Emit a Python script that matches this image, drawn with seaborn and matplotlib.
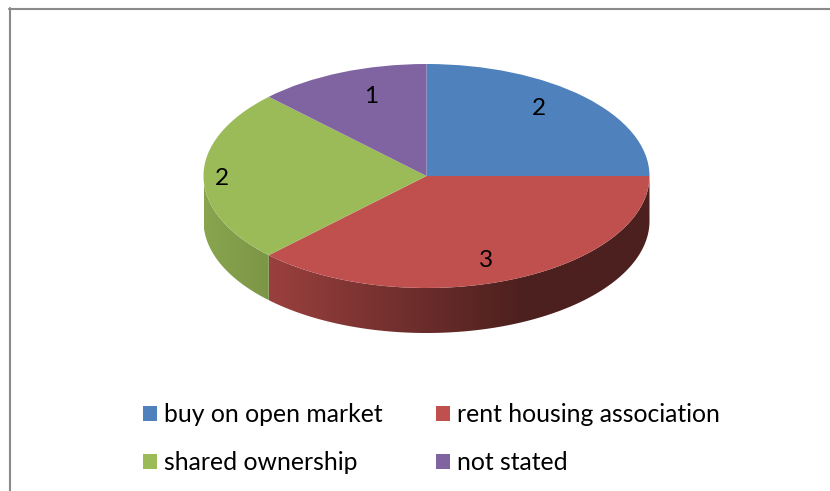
import numpy as np
import matplotlib
matplotlib.use("Agg")
import matplotlib.pyplot as plt
from matplotlib.colors import to_rgb
from matplotlib.lines import Line2D
from matplotlib.patches import Polygon
import seaborn as sns

categories = ["buy on open market", "rent housing association", "shared ownership", "not stated"]
values = [2, 3, 2, 1]
colors = ["#4f81bd", "#c0504d", "#9bbb59", "#8064a2"]

W, H = 830, 491
CX, CY, RX, RY, DEPTH = 426.5, 176, 223, 112, 45

sns.set_theme(style="white", palette=colors)
plt.rcParams["font.family"] = ["Lato", "DejaVu Sans"]

fig = plt.figure(figsize=(W / 100, H / 100), dpi=100)
ax = fig.add_axes([0, 0, 1, 1])

def px(x):
    return (x - CX) / RX

def py(y):
    return (CY - y) / RY

wedges, _ = ax.pie(values, startangle=90, counterclock=False, colors=sns.color_palette(n_colors=4),
                   radius=1, wedgeprops={"linewidth": 0, "zorder": 3})

# Side wall of the disc: a horizontal gradient clipped to each slice's rim
depth = DEPTH / RY
start = 90.0
total = sum(values)
shades = {colors[1]: (0.80, 0.40, 269, 520), colors[2]: (0.88, 0.80, 204, 269)}
for val, col in zip(values, colors):
    sweep = val / total * 360
    a0, a1 = start - sweep, start
    start = a0
    lo, hi = max(a0, -180), min(a1, 0)
    if lo >= hi:
        continue
    t = np.radians(np.linspace(lo, hi, 200))
    xs, ys = np.cos(t), np.sin(t)
    outline = np.r_[np.c_[xs, ys], np.c_[xs[::-1], ys[::-1] - depth]]
    s0, s1, p0, p1 = shades[col]
    grid = np.linspace(xs.min(), xs.max(), 400)
    u = np.clip(((grid * RX + CX) - p0) / (p1 - p0), 0, 1)
    img = (s0 + (s1 - s0) * u)[None, :, None] * np.array(to_rgb(col))[None, None, :]
    im = ax.imshow(img, extent=(xs.min(), xs.max(), ys.min() - depth, ys.max()),
                   aspect="auto", zorder=2, interpolation="bilinear")
    clip = Polygon(outline, closed=True, transform=ax.transData, facecolor="none", edgecolor="none")
    ax.add_patch(clip)
    im.set_clip_path(clip)

ax.set_aspect("auto")
ax.set_xlim(px(0), px(W))
ax.set_ylim(py(H), py(0))
ax.axis("off")

# Data labels
label_px = [(539, 108.5), (486, 260.5), (222, 178.5), (371, 96.5)]
for (x, y), v in zip(label_px, values):
    ax.text(px(x), py(y), str(v), ha="center", va="center", fontsize=17.5, color="black", zorder=5)

# Legend, filled column by column so that it reads row-wise
order = [0, 2, 1, 3]
ax.legend([wedges[i] for i in order], [categories[i] for i in order], ncols=2, frameon=False,
          loc="upper left", bbox_to_anchor=(143 / W, 1 - 403 / H), bbox_transform=fig.transFigure,
          fontsize=17.8, labelcolor="black", handlelength=0.566, handleheight=0.566, handletextpad=0.285,
          labelspacing=1.02, columnspacing=2.14, borderpad=0, borderaxespad=0)

# Chart area border
for xs, ys in [((9.5, 9.5), (8, H)), ((8.5, W), (8.8, 8.8))]:
    fig.add_artist(Line2D([x / W for x in xs], [1 - y / H for y in ys], color="#8a8a8a", lw=1.5))

fig.savefig("out.png", dpi=100, facecolor="white")
